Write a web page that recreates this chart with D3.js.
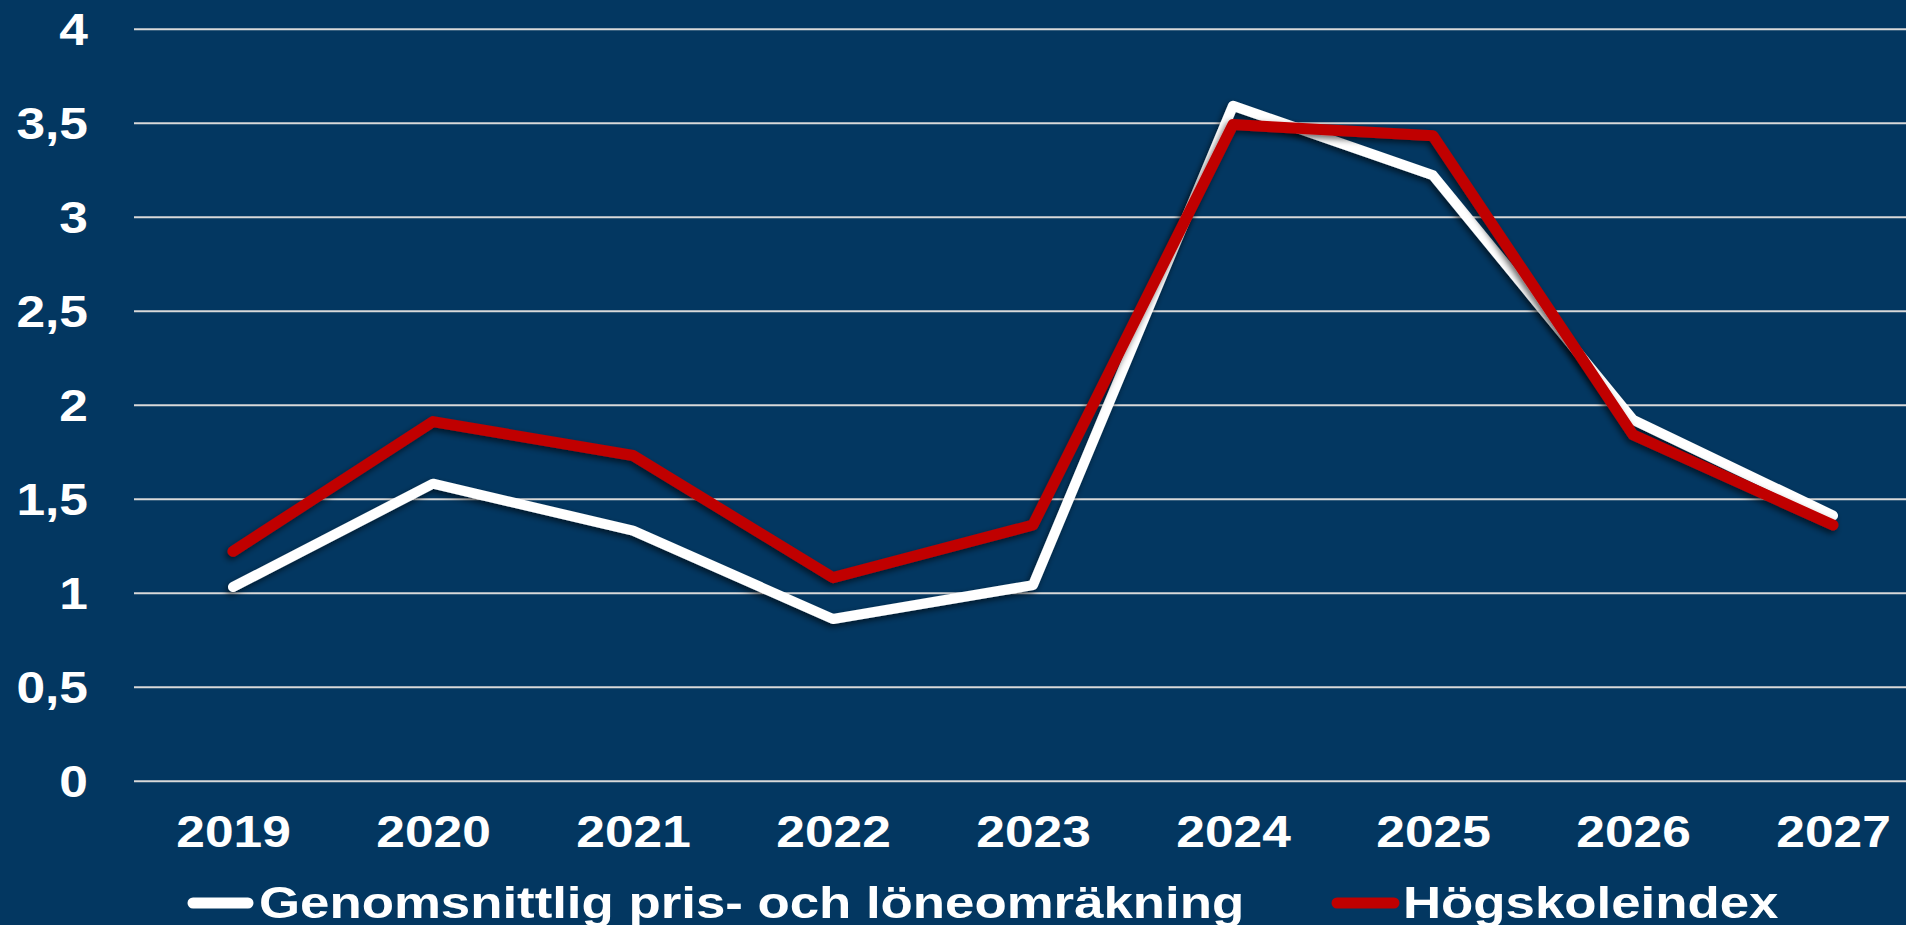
<!DOCTYPE html>
<html>
<head>
<meta charset="utf-8">
<script src="https://cdn.jsdelivr.net/npm/d3@7"></script>
<style>
  html, body { margin: 0; padding: 0; background: #033761; overflow: hidden; }
  text { font-family: "Liberation Sans", Arial, sans-serif; font-weight: bold; fill: #fff; }
</style>
</head>
<body>
<div id="chart"></div>
<script>
// data
var years = ["2019", "2020", "2021", "2022", "2023", "2024", "2025", "2026", "2027"];
var prisLon = [1.03, 1.58, 1.33, 0.86, 1.04, 3.59, 3.22, 1.92, 1.41];
var hogskoleindex = [1.22, 1.91, 1.73, 1.08, 1.36, 3.49, 3.43, 1.84, 1.36];
var yTicks = [0, 0.5, 1, 1.5, 2, 2.5, 3, 3.5, 4];
var seriesNames = ["Genomsnittlig pris- och löneomräkning", "Högskoleindex"];
var seriesColors = ["#ffffff", "#c00000"];

var svgWidth = 1906, svgHeight = 925;
var stretch = 1.17; // text in the original is a bit wide
var legendStretch = 1.2;

var svg = d3.select("#chart").append("svg")
  .attr("width", svgWidth)
  .attr("height", svgHeight);

svg.append("rect")
  .attr("width", svgWidth)
  .attr("height", svgHeight)
  .attr("fill", "#033761");

// drop shadow for the lines
var defs = svg.append("defs");
defs.append("filter")
  .attr("id", "shadow")
  .attr("x", "-10%").attr("y", "-10%")
  .attr("width", "120%").attr("height", "120%")
  .append("feDropShadow")
  .attr("dx", -2).attr("dy", 3)
  .attr("stdDeviation", 3)
  .attr("flood-color", "#000")
  .attr("flood-opacity", 0.6);

var xScale = d3.scalePoint()
  .domain(years)
  .range([133, 1933])
  .padding(0.5);

var yScale = d3.scaleLinear()
  .domain([0, 4])
  .range([780.7, 28.7]);

// y axis + gridlines
var leftAxis = d3.axisLeft(yScale)
  .tickValues(yTicks)
  .tickSize(-(1933 - 134))
  .tickFormat(d => String(d).replace(".", ","));

var yAxisG = svg.append("g")
  .attr("transform", "translate(134,0)")
  .call(leftAxis);

yAxisG.select(".domain").remove();
yAxisG.selectAll(".tick line")
  .attr("stroke", "#d9d9d9")
  .attr("stroke-width", 2);
yAxisG.selectAll(".tick text")
  .attr("x", -46 / stretch)
  .attr("dy", "0.36em")
  .attr("transform", `scale(${stretch},1)`)
  .style("font-size", "44px")
  .attr("fill", "#fff");

// x axis labels
var bottomAxis = d3.axisBottom(xScale).tickSize(0);
var xAxisG = svg.append("g")
  .attr("transform", "translate(0,780.7)")
  .call(bottomAxis);
xAxisG.select(".domain").remove();
xAxisG.selectAll(".tick text")
  .attr("y", 66)
  .attr("dy", 0)
  .attr("transform", `scale(${stretch},1)`)
  .style("font-size", "44px")
  .attr("fill", "#fff");

// lines
var line = d3.line()
  .x((d, i) => xScale(years[i]))
  .y(d => yScale(d));

[prisLon, hogskoleindex].forEach(function(vals, k) {
  svg.append("path")
    .datum(vals)
    .attr("d", line)
    .attr("fill", "none")
    .attr("stroke", seriesColors[k])
    .attr("stroke-width", k === 0 ? 10 : 11)
    .attr("stroke-linejoin", "round")
    .attr("stroke-linecap", "round")
    .attr("filter", "url(#shadow)");
});

// legend
var legendX = [[188, 253, 259], [1332, 1399, 1403]];
var legendG = svg.append("g");
seriesNames.forEach(function(name, k) {
  legendG.append("line")
    .attr("x1", legendX[k][0] + 5).attr("x2", legendX[k][1] - 5)
    .attr("y1", 903).attr("y2", 903)
    .attr("stroke", seriesColors[k])
    .attr("stroke-width", 11)
    .attr("stroke-linecap", "round");
  legendG.append("text")
    .attr("transform", `translate(${legendX[k][2]},918) scale(${legendStretch},1)`)
    .style("font-size", "44px")
    .text(name);
});
</script>
</body>
</html>
